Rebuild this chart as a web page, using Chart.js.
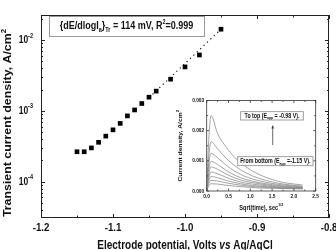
<!DOCTYPE html>
<html>
<head>
<meta charset="utf-8">
<script src="https://cdn.jsdelivr.net/npm/chart.js@4.4.1/dist/chart.umd.min.js"></script>
<style>
html, body { margin: 0; padding: 0; background: #fff; }
#wrap { position: relative; width: 336px; height: 250px; overflow: hidden; }
#mainChart { position: absolute; left: 0; top: 0; }
#insetChart { position: absolute; left: 160px; top: 93px; }
</style>
</head>
<body>
<div id="wrap">
    <canvas id="mainChart" width="336" height="250"></canvas>
    <canvas id="insetChart" width="162" height="122"></canvas>
</div>
<script>
// main plot: transient current density vs electrode potential
var potentials = [-1.15, -1.14, -1.13, -1.12, -1.11, -1.10, -1.09, -1.08, -1.07, -1.06, -1.05, -1.04, -1.02, -1.00, -0.98, -0.95];
var currents = [2.65e-4, 2.65e-4, 3.0e-4, 3.6e-4, 4.4e-4, 5.4e-4, 6.65e-4, 8.5e-4, 1.03e-3, 1.27e-3, 1.56e-3, 1.9e-3, 2.8e-3, 4.17e-3, 6.15e-3, 1.42e-2];
var fitPotentials = [-1.045, -0.95];
var fitCurrents = [1.71e-3, 1.42e-2];
var xTicks = [-1.2, -1.1, -1.0, -0.9, -0.8];
var xTickLabels = ['-1.2', '-1.1', '-1.0', '-0.9', '-0.8'];
var yTickPowers = [-4, -3, -2];

// inset: current transients, one per step potential
var sqrtTime = [0, 0.04, 0.1, 0.25, 0.45, 0.65, 0.9, 1.2, 1.5, 1.8, 2.2];
var transient1 = [0, 0.0015, 0.0025, 0.0019, 0.00145, 0.0011, 0.0008, 0.00055, 0.00038, 0.00027, 0.0002];
var transient2 = [0, 0.001, 0.00163, 0.0014, 0.00108, 0.00083, 0.0006, 0.00042, 0.0003, 0.00022, 0.00016];
var transient3 = [0, 0.0008, 0.00125, 0.0011, 0.00085, 0.00065, 0.00047, 0.00034, 0.00025, 0.00019, 0.00014];
var transient4 = [0, 0.00062, 0.00098, 0.00088, 0.00068, 0.00052, 0.00038, 0.00028, 0.00021, 0.00016, 0.00012];
var transient5 = [0, 0.0005, 0.0008, 0.00072, 0.00056, 0.00043, 0.00032, 0.00024, 0.00018, 0.00014, 0.00011];
var transient6 = [0, 0.0004, 0.00063, 0.00057, 0.00045, 0.00035, 0.00026, 0.0002, 0.00015, 0.00012, 0.0001];
var transient7 = [0, 0.0003, 0.00048, 0.00044, 0.00035, 0.00028, 0.00021, 0.00016, 0.00013, 0.0001, 0.00009];
var transient8 = [0, 0.00022, 0.00035, 0.00033, 0.00027, 0.00022, 0.00017, 0.00013, 0.00011, 0.00009, 0.00008];
var transient9 = [0, 0.00015, 0.00024, 0.00023, 0.00019, 0.00016, 0.00013, 0.0001, 0.00009, 0.00008, 0.00007];
var insetXTicks = [0, 0.5, 1.0, 1.5, 2.0, 2.5];
var insetXLabels = ['0.0', '0.5', '1.0', '1.5', '2.0', '2.5'];
var insetYTicks = [0, 0.001, 0.002, 0.003];
var insetYLabels = ['0.000', '0.001', '0.002', '0.003'];

var FONT = 'Arial, "Liberation Sans", sans-serif';
var STRETCH = 1.2; // the figure is a bit taller than wide

// draw text made of several pieces (sub/superscripts, italic)
function drawRich(ctx, parts, x, y, align, rotate) {
    ctx.save();
    ctx.translate(x, y);
    if (rotate) {
        ctx.rotate(-Math.PI / 2);
        ctx.scale(STRETCH, 1);
    } else {
        ctx.scale(1, STRETCH);
    }
    ctx.textBaseline = 'middle';
    ctx.textAlign = 'left';
    ctx.fillStyle = '#111';
    var total = 0;
    parts.forEach(function (p) {
        ctx.font = (p.style || 'bold') + ' ' + p.size + 'px ' + FONT;
        p.w = ctx.measureText(p.t).width;
        total += p.w;
    });
    var cx = align === 'center' ? -total / 2 : (align === 'right' ? -total : 0);
    parts.forEach(function (p) {
        ctx.font = (p.style || 'bold') + ' ' + p.size + 'px ' + FONT;
        ctx.fillText(p.t, cx, p.dy || 0);
        cx += p.w;
    });
    ctx.restore();
}

function tickLine(ctx, x1, y1, x2, y2) {
    ctx.beginPath();
    ctx.moveTo(x1, y1);
    ctx.lineTo(x2, y2);
    ctx.stroke();
}

var mainDecor = {
    id: 'mainDecor',
    afterDraw: function (chart) {
        var ctx = chart.ctx, a = chart.chartArea, xs = chart.scales.x, ys = chart.scales.y;
        ctx.save();
        ctx.strokeStyle = '#222';
        ctx.lineWidth = 1;
        ctx.strokeRect(Math.round(a.left) + 0.5, Math.round(a.top) + 0.5, Math.round(a.right - a.left) - 1, Math.round(a.bottom - a.top) - 1);

        // x ticks, inward, top and bottom
        for (var k = 0; k <= 8; k++) {
            var v = -1.2 + k * 0.05;
            var px = Math.round(xs.getPixelForValue(v)) + 0.5;
            var len = k % 2 === 0 ? 4 : 2.5;
            tickLine(ctx, px, a.bottom, px, a.bottom - len);
            tickLine(ctx, px, a.top, px, a.top + len);
        }
        // y ticks, log, left and right
        for (var p = -5; p <= -1; p++) {
            for (var m = 1; m <= 9; m++) {
                var val = m * Math.pow(10, p);
                if (val < ys.min || val > ys.max) continue;
                var py = Math.round(ys.getPixelForValue(val)) + 0.5;
                var l = m === 1 ? 4 : 2;
                tickLine(ctx, a.left, py, a.left + l, py);
                tickLine(ctx, a.right, py, a.right - l, py);
            }
        }
        ctx.restore();

        // tick labels
        xTicks.forEach(function (v, i) {
            drawRich(ctx, [{ t: xTickLabels[i], size: 9.7 }], xs.getPixelForValue(v), a.bottom + 10, 'center');
        });
        yTickPowers.forEach(function (p) {
            drawRich(ctx, [{ t: '10', size: 8.5 }, { t: '-' + Math.abs(p), size: 5.5, dy: -3.5 }],
                33, ys.getPixelForValue(Math.pow(10, p)), 'right');
        });

        // axis titles
        drawRich(ctx, [{ t: 'Transient current density, A/cm', size: 10.3 }, { t: '2', size: 6.5, dy: -4 }],
            8, 123, 'center', true);
        drawRich(ctx, [{ t: 'Electrode potential, Volts ', size: 10 }, { t: 'vs', size: 10, style: 'italic bold' }, { t: ' Ag/AgCl', size: 10 }],
            (a.left + a.right) / 2, 246, 'center');

        // fit annotation box
        ctx.save();
        ctx.fillStyle = '#fff';
        ctx.strokeStyle = '#999';
        ctx.lineWidth = 1;
        ctx.fillRect(a.left + 8, a.top + 1, 155, 20);
        ctx.strokeRect(a.left + 8.5, a.top + 1.5, 155, 20);
        ctx.restore();
        drawRich(ctx, [
            { t: '{dE/dlogI', size: 9 }, { t: 'a', size: 5.5, dy: 3 }, { t: '}', size: 9 }, { t: 'Tr', size: 5.5, dy: 3 },
            { t: ' = 114 mV, R', size: 9 }, { t: '2', size: 5.5, dy: -3.5 }, { t: '=0.999', size: 9 }
        ], a.left + 8 + 155 / 2, a.top + 11.5, 'center');
    }
};

var insetDecor = {
    id: 'insetDecor',
    afterDraw: function (chart) {
        var ctx = chart.ctx, a = chart.chartArea, xs = chart.scales.x, ys = chart.scales.y;
        ctx.save();
        ctx.strokeStyle = '#333';
        ctx.lineWidth = 0.8;
        ctx.strokeRect(a.left, a.top, a.right - a.left, a.bottom - a.top);
        for (var k = 0; k <= 10; k++) {
            var px = xs.getPixelForValue(k * 0.25);
            var len = k % 2 === 0 ? 2.5 : 1.5;
            tickLine(ctx, px, a.bottom, px, a.bottom - len);
            tickLine(ctx, px, a.top, px, a.top + len);
        }
        for (var j = 0; j <= 6; j++) {
            var py = ys.getPixelForValue(j * 0.0005);
            var l = j % 2 === 0 ? 2.5 : 1.5;
            tickLine(ctx, a.left, py, a.left + l, py);
            tickLine(ctx, a.right, py, a.right - l, py);
        }
        ctx.restore();

        insetXTicks.forEach(function (v, i) {
            drawRich(ctx, [{ t: insetXLabels[i], size: 4.8 }], xs.getPixelForValue(v), a.bottom + 5, 'center');
        });
        insetYTicks.forEach(function (v, i) {
            drawRich(ctx, [{ t: insetYLabels[i], size: 4.8 }], a.left - 2.5, ys.getPixelForValue(v), 'right');
        });
        drawRich(ctx, [{ t: 'Current density, A/cm', size: 5.6 }, { t: '2', size: 3.6, dy: -2.5 }],
            20, (a.top + a.bottom) / 2, 'center', true);
        drawRich(ctx, [{ t: 'Sqrt(time), sec', size: 5.6 }, { t: '1/2', size: 3.6, dy: -2.5 }],
            (a.left + a.right) / 2, a.bottom + 17, 'center');

        // annotation boxes and arrow
        ctx.save();
        ctx.fillStyle = '#fff';
        ctx.strokeStyle = '#888';
        ctx.lineWidth = 0.8;
        ctx.fillRect(a.left + 34, a.top + 11.2, 62.6, 8.3);
        ctx.strokeRect(a.left + 34, a.top + 11.2, 62.6, 8.3);
        ctx.fillRect(a.left + 31, a.top + 56.2, 75.3, 9);
        ctx.strokeRect(a.left + 31, a.top + 56.2, 75.3, 9);
        ctx.strokeStyle = '#444';
        ctx.lineWidth = 0.8;
        var ax = a.left + 66;
        tickLine(ctx, ax, a.top + 44.5, ax, a.top + 25.5);
        ctx.fillStyle = '#444';
        ctx.beginPath();
        ctx.moveTo(ax, a.top + 24.5);
        ctx.lineTo(ax - 1.3, a.top + 28);
        ctx.lineTo(ax + 1.3, a.top + 28);
        ctx.closePath();
        ctx.fill();
        ctx.restore();
        drawRich(ctx, [{ t: 'To top (E', size: 5.3 }, { t: 'app', size: 3.4, dy: 1.8 }, { t: ' = -0.98 V).', size: 5.3 }],
            a.left + 34 + 31.3, a.top + 15.4, 'center');
        drawRich(ctx, [{ t: 'From bottom (E', size: 5.3 }, { t: 'app', size: 3.4, dy: 1.8 }, { t: ' =-1.15 V).', size: 5.3 }],
            a.left + 31 + 37.6, a.top + 60.8, 'center');
    }
};

function toPoints(xs, ys) {
    return xs.map(function (x, i) { return { x: x, y: ys[i] }; });
}

new Chart(document.getElementById('mainChart'), {
    type: 'scatter',
    data: {
        datasets: [{
            data: toPoints(fitPotentials, fitCurrents),
            showLine: true,
            borderColor: '#111',
            borderWidth: 1.2,
            borderDash: [1.2, 3.5],
            pointRadius: 0
        }, {
            data: toPoints(potentials, currents),
            pointStyle: 'rect',
            pointRadius: 3.3,
            backgroundColor: '#000',
            borderWidth: 0
        }]
    },
    options: {
        responsive: false,
        animation: false,
        devicePixelRatio: 1,
        layout: { padding: { left: 41, top: 15, right: 7, bottom: 32 } },
        plugins: { legend: { display: false }, tooltip: { enabled: false } },
        scales: {
            x: { type: 'linear', min: -1.2, max: -0.8, display: false },
            y: { type: 'logarithmic', min: Math.pow(10, -4.512), max: Math.pow(10, -1.647), display: false }
        }
    },
    plugins: [mainDecor]
});

var transients = [transient1, transient2, transient3, transient4, transient5, transient6, transient7, transient8, transient9];
new Chart(document.getElementById('insetChart'), {
    type: 'scatter',
    data: {
        datasets: transients.map(function (t) {
            return {
                data: toPoints(sqrtTime, t),
                showLine: true,
                borderColor: '#8c8c8c',
                borderWidth: 0.8,
                pointRadius: 0,
                cubicInterpolationMode: 'monotone'
            };
        })
    },
    options: {
        responsive: false,
        animation: false,
        devicePixelRatio: 1,
        layout: { padding: { left: 46.7, top: 7.5, right: 6.3, bottom: 24 } },
        plugins: { legend: { display: false }, tooltip: { enabled: false } },
        scales: {
            x: { type: 'linear', min: 0, max: 2.5, display: false },
            y: { type: 'linear', min: 0, max: 0.003, display: false }
        }
    },
    plugins: [insetDecor]
});
</script>
</body>
</html>
